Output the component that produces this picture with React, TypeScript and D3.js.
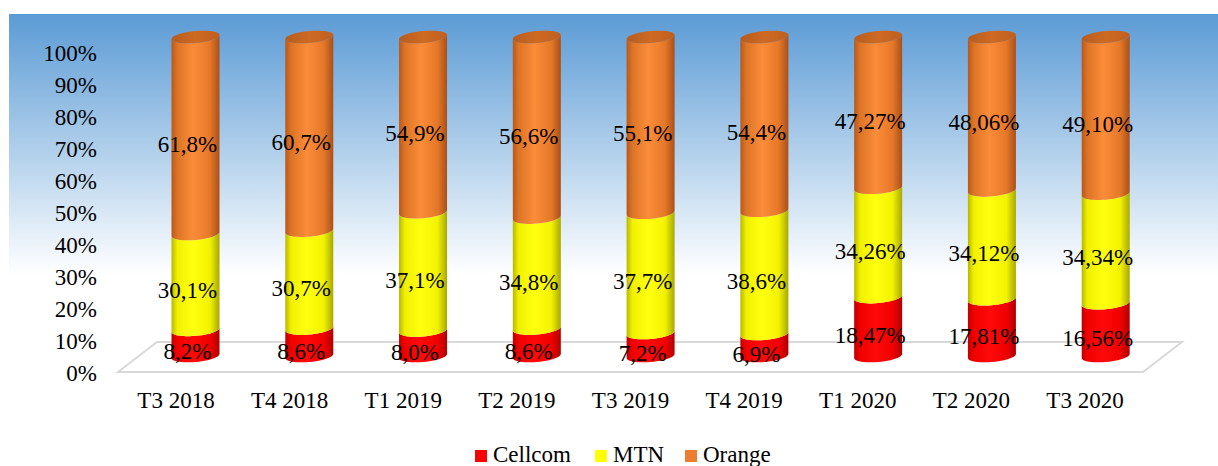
import React from "react";
import * as d3 from "d3";

const categories = ["T3 2018", "T4 2018", "T1 2019", "T2 2019", "T3 2019", "T4 2019", "T1 2020", "T2 2020", "T3 2020"];
const cellcom = [8.2, 8.6, 8.0, 8.6, 7.2, 6.9, 18.47, 17.81, 16.56];
const mtn = [30.1, 30.7, 37.1, 34.8, 37.7, 38.6, 34.26, 34.12, 34.34];
const orange = [61.8, 60.7, 54.9, 56.6, 55.1, 54.4, 47.27, 48.06, 49.1];
const cellcomLabels = ["8,2%", "8,6%", "8,0%", "8,6%", "7,2%", "6,9%", "18,47%", "17,81%", "16,56%"];
const mtnLabels = ["30,1%", "30,7%", "37,1%", "34,8%", "37,7%", "38,6%", "34,26%", "34,12%", "34,34%"];
const orangeLabels = ["61,8%", "60,7%", "54,9%", "56,6%", "55,1%", "54,4%", "47,27%", "48,06%", "49,10%"];
const yTicks = [0, 10, 20, 30, 40, 50, 60, 70, 80, 90, 100];
const seriesNames = ["Cellcom", "MTN", "Orange"];
const legendColors = ["#ff0000", "#ffff00", "#ed7d31"];

const W = 1218;
const H = 466;
const FONT = "Liberation Serif, DejaVu Serif, serif";
const FS = 23;

export default function App() {
  const yCyl = d3.scaleLinear().domain([0, 100]).range([356, 37]);
  const yAxis = d3.scaleLinear().domain([0, 100]).range([373, 53]);
  const xCyl = d3.scaleLinear().domain([0, 8]).range([195.5, 1105.7]);
  const xLab = d3.scaleLinear().domain([0, 8]).range([176, 1085]);
  const rx = 24;
  const ry = 6;
  const slope = -0.085;

  const arcPts = (cx: number, cy: number, t0: number, t1: number, n = 24) => {
    const pts: [number, number][] = [];
    for (let k = 0; k <= n; k++) {
      const t = t0 + ((t1 - t0) * k) / n;
      const x = cx + rx * Math.cos(t);
      const y = cy + ry * Math.sin(t) + slope * (x - cx);
      pts.push([x, y]);
    }
    return pts;
  };
  const line = d3.line();

  const segPath = (cx: number, yb: number, yt: number) => {
    const bottom = arcPts(cx, yb, Math.PI, 0);
    const top = arcPts(cx, yt, 0, Math.PI);
    return line([...bottom, ...top]) + "Z";
  };
  const capPath = (cx: number, cy: number) => line(arcPts(cx, cy, 0, Math.PI * 2, 48)) + "Z";

  const series = [cellcom, mtn, orange];
  const labels = [cellcomLabels, mtnLabels, orangeLabels];
  const grads = ["gRed", "gYel", "gOra"];
  const textStyle = { fontFamily: FONT };

  return (
    <svg width={W} height={H} style={{ position: "absolute", left: 0, top: 0, fontFamily: FONT }}>
      <defs>
        <linearGradient id="bg" x1="0" y1="14" x2="0" y2="275" gradientUnits="userSpaceOnUse">
          <stop offset="0" stopColor="#5b9bd5" />
          <stop offset="1" stopColor="#ffffff" />
        </linearGradient>
        <linearGradient id="gOra" x1="0" x2="1" y1="0" y2="0">
          <stop offset="0" stopColor="#b8581a" />
          <stop offset="0.12" stopColor="#dc7426" />
          <stop offset="0.45" stopColor="#fb8c39" />
          <stop offset="0.8" stopColor="#e57828" />
          <stop offset="1" stopColor="#a9501a" />
        </linearGradient>
        <linearGradient id="gYel" x1="0" x2="1" y1="0" y2="0">
          <stop offset="0" stopColor="#b8b800" />
          <stop offset="0.12" stopColor="#f0f000" />
          <stop offset="0.45" stopColor="#ffff10" />
          <stop offset="0.8" stopColor="#f2f200" />
          <stop offset="1" stopColor="#a8a800" />
        </linearGradient>
        <linearGradient id="gRed" x1="0" x2="1" y1="0" y2="0">
          <stop offset="0" stopColor="#c00000" />
          <stop offset="0.12" stopColor="#f00000" />
          <stop offset="0.45" stopColor="#ff0a0a" />
          <stop offset="0.8" stopColor="#f00000" />
          <stop offset="1" stopColor="#b00000" />
        </linearGradient>
        <linearGradient id="gCap" x1="0" x2="1" y1="0" y2="0">
          <stop offset="0" stopColor="#b85c1e" />
          <stop offset="0.5" stopColor="#cd6a24" />
          <stop offset="1" stopColor="#c0601e" />
        </linearGradient>
      </defs>
      <rect x={0} y={0} width={W} height={H} fill="#ffffff" />
      <rect x={9} y={14} width={W - 9} height={H - 14} fill="url(#bg)" />

      <path d="M118,372 L1143,372 L1182,342 L157,342 Z" fill="none" stroke="#d9d9d9" strokeWidth={2} />

      {yTicks.map((t) => (
        <text key={t} x={97} y={yAxis(t)} dy="0.35em" textAnchor="end" fontSize={FS} fill="#000" style={textStyle}>
          {t}%
        </text>
      ))}

      {categories.map((c, i) => {
        const cx = xCyl(i);
        const total = cellcom[i] + mtn[i] + orange[i];
        let acc = 0;
        const segs = series.map((s, si) => {
          const v0 = acc;
          acc += (s[i] / total) * 100;
          return { si, v0, v1: acc };
        });
        return (
          <g key={c}>
            {segs.map((sg) => (
              <path key={sg.si} d={segPath(cx, yCyl(sg.v0), yCyl(sg.v1))} fill={`url(#${grads[sg.si]})`} />
            ))}
            <path d={capPath(cx, yCyl(100))} fill="url(#gCap)" />
            {segs.map((sg) => (
              <text
                key={"t" + sg.si}
                x={cx - 8}
                y={(yCyl(sg.v0) + yCyl(sg.v1)) / 2 + 8.5}
                dy="0.35em"
                textAnchor="middle"
                fontSize={FS}
                fill="#000"
                style={textStyle}
              >
                {labels[sg.si][i]}
              </text>
            ))}
          </g>
        );
      })}

      {categories.map((c, i) => (
        <text key={c} x={xLab(i)} y={400} dy="0.35em" textAnchor="middle" fontSize={FS} fill="#000" style={textStyle}>
          {c}
        </text>
      ))}

      {seriesNames.map((n, i) => {
        const xs = [475, 595, 685];
        return (
          <g key={n}>
            <rect x={xs[i]} y={450} width={12} height={12} fill={legendColors[i]} />
            <text x={xs[i] + 18} y={462} fontSize={FS} fill="#000" style={textStyle}>
              {n}
            </text>
          </g>
        );
      })}
    </svg>
  );
}
